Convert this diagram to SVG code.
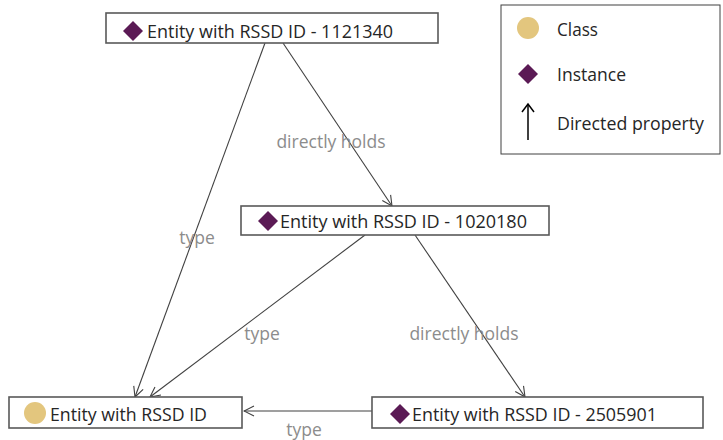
<svg xmlns="http://www.w3.org/2000/svg" width="723" height="440" viewBox="0 0 723 440">
  <style>
    .box { fill: #ffffff; stroke: #595959; stroke-width: 1.6; }
    .name { font-family: "Open Sans", "Liberation Sans", sans-serif; font-size: 18px; fill: #262626; }
    .edge { fill: none; stroke: #404040; stroke-width: 1.1; marker-end: url(#open); }
    .elabel { font-family: "Open Sans", "Liberation Sans", sans-serif; font-size: 17.5px; fill: #8c8c8c; text-anchor: middle; }
    .inst { fill: #5b1a55; }
    .cls { fill: #e3c67e; }
  </style>
  <defs>
    <marker id="open" viewBox="0 0 12 12" refX="11" refY="6" markerWidth="12" markerHeight="12" markerUnits="userSpaceOnUse" orient="auto">
      <path d="M1,1 L11,6 L1,11" fill="none" stroke="#404040" stroke-width="1.1"/>
    </marker>
    <path id="diamond" d="M0,-10 L10,0 L0,10 L-10,0 Z"/>
  </defs>

  <rect width="723" height="440" fill="#ffffff"/>

  <!-- connectors -->
  <g id="connectors">
    <line class="edge" x1="265" y1="43" x2="135" y2="397"/>
    <text class="elabel" x="197" y="244">type</text>
    <line class="edge" x1="283" y1="43" x2="392" y2="206"/>
    <text class="elabel" x="331" y="148">directly holds</text>
    <line class="edge" x1="365" y1="235" x2="150" y2="397"/>
    <text class="elabel" x="262" y="340">type</text>
    <line class="edge" x1="415" y1="235" x2="525" y2="397"/>
    <text class="elabel" x="464" y="340">directly holds</text>
    <line class="edge" x1="372" y1="411" x2="244" y2="411"/>
    <text class="elabel" x="304" y="436">type</text>
  </g>

  <g id="n1121340">
    <rect class="box" x="106" y="13" width="332" height="30"/>
    <use href="#diamond" class="inst" x="133" y="31"/>
    <text class="name" x="147" y="38" textLength="246" lengthAdjust="spacingAndGlyphs">Entity with RSSD ID - 1121340</text>
  </g>

  <g id="n1020180">
    <rect class="box" x="241" y="206" width="308" height="29"/>
    <use href="#diamond" class="inst" x="268" y="221"/>
    <text class="name" x="280" y="228" textLength="247" lengthAdjust="spacingAndGlyphs">Entity with RSSD ID - 1020180</text>
  </g>

  <g id="nClass">
    <rect class="box" x="9" y="397" width="233" height="31"/>
    <circle class="cls" cx="35" cy="413" r="11"/>
    <text class="name" x="50" y="421" textLength="157" lengthAdjust="spacingAndGlyphs">Entity with RSSD ID</text>
  </g>

  <g id="n2505901">
    <rect class="box" x="372" y="397" width="331" height="31"/>
    <use href="#diamond" class="inst" x="400" y="414"/>
    <text class="name" x="412" y="421" textLength="245" lengthAdjust="spacingAndGlyphs">Entity with RSSD ID - 2505901</text>
  </g>

  <g id="legend">
    <rect x="501" y="5" width="219" height="149" fill="#ffffff" stroke="#404040" stroke-width="1"/>
    <circle class="cls" cx="528" cy="28" r="11"/>
    <use href="#diamond" class="inst" x="528" y="74"/>
    <line x1="528" y1="140" x2="528" y2="104" stroke="#000" stroke-width="1.5"/>
    <path d="M522,112 L528,104 L534,112" fill="none" stroke="#000" stroke-width="1.5"/>
    <text class="name" x="557" y="36" textLength="41" lengthAdjust="spacingAndGlyphs">Class</text>
    <text class="name" x="557" y="81" textLength="69" lengthAdjust="spacingAndGlyphs">Instance</text>
    <text class="name" x="557" y="130" textLength="147" lengthAdjust="spacingAndGlyphs">Directed property</text>
  </g>
</svg>
